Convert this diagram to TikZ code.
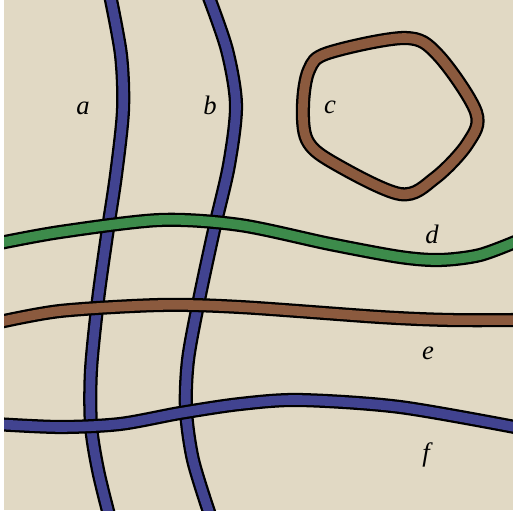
\documentclass[tikz,border=0pt]{standalone}
\usepackage{fontspec}
\setmainfont{Liberation Serif}
\definecolor{bgbeige}{HTML}{E1D9C4}
\definecolor{bandblue}{HTML}{414390}
\definecolor{bandgreen}{HTML}{3D8B4B}
\definecolor{bandbrown}{HTML}{8B5A3E}
\tikzset{
  band/.style={line width=1.7pt, double distance=7.2pt, double=#1},
  lbl/.style={font=\fontsize{20}{24}\selectfont\itshape, inner sep=0pt}
}
\begin{document}
\begin{tikzpicture}[x=0.75pt,y=-0.75pt]
\useasboundingbox (0,0) rectangle (513,513);
\fill[white] (0,0) rectangle (513,513);
\fill[bgbeige] (4,0) rectangle (513,510);
\begin{scope}
\clip (4,0) rectangle (513,510);
% vertical strands
\draw[band=bandblue] plot[smooth] coordinates {(110,-5) (121,55) (123,110) (116,175) (107,235) (98,300) (91,370) (91,425) (98,470) (109,515)};
\draw[band=bandblue] plot[smooth] coordinates {(208,-5) (227,50) (236,105) (229,165) (214,230) (199,300) (188,360) (186,410) (193,460) (210,515)};
% loop c
\draw[band=bandbrown] plot[smooth cycle, tension=0.55] coordinates {(303,105) (309,70) (328,53) (405,38) (438,55) (476,112) (468,143) (435,178) (400,194) (332,162) (307,140)};
% horizontal strands
\draw[band=bandgreen] plot[smooth] coordinates {(-5,244) (60,232) (160,220) (240,225) (330,244) (400,257) (440,260) (480,255) (520,240)};
\draw[band=bandbrown] plot[smooth] coordinates {(-5,323) (60,311) (160,305) (240,307) (380,317) (450,320) (520,320)};
\draw[band=bandblue] plot[smooth] coordinates {(-5,424) (60,427) (120,424) (180,413) (240,404) (300,400) (400,407) (520,428)};
\end{scope}
\node[lbl] (la) at (83,108) {a};
\node[lbl] (lb) at (210,105) {b};
\node[lbl] (lc) at (330,107) {c};
\node[lbl] (ld) at (432,234) {d};
\node[lbl] (le) at (428,353) {e};
\node[lbl] (lf) at (426,455) {f};
\end{tikzpicture}
\end{document}
